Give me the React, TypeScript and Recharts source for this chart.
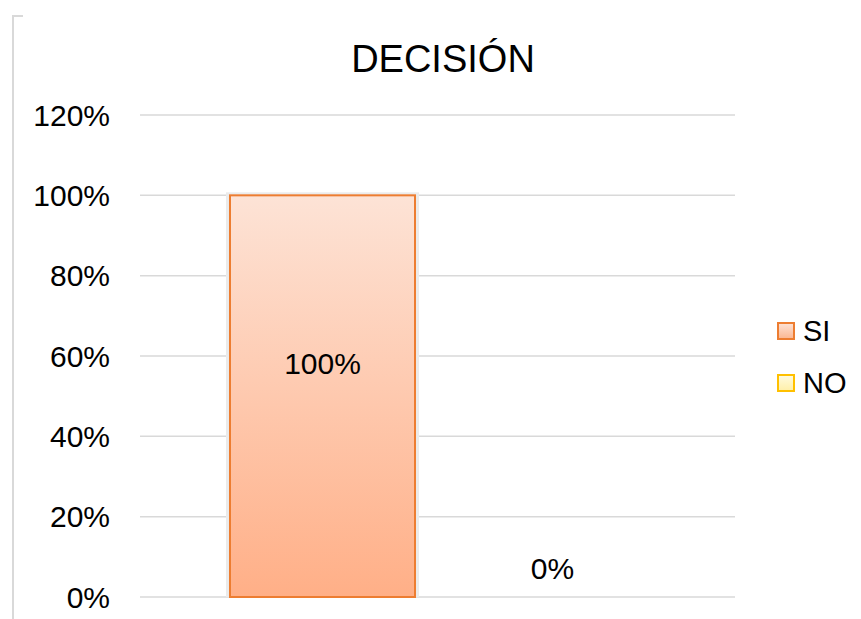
import { BarChart, Bar, YAxis, XAxis, CartesianGrid, LabelList } from 'recharts';

const categories = ['DECISIÓN'];
const siValues = [1.0];
const noValues = [0];
const yTicks = [0, 0.2, 0.4, 0.6, 0.8, 1.0, 1.2];
const seriesNames = ['SI', 'NO'];

const data = categories.map((name, i) => ({ name, SI: siValues[i], NO: noValues[i] }));

const pct = (v: number): string => `${Math.round(v * 100)}%`;

function ShadowBar(props: any): React.ReactNode {
  const { x, y, width, height, fill, stroke } = props;
  if (!height || height <= 0) return null;
  return (
    <g>
      <rect x={x - 4} y={y - 3} width={width + 8} height={height + 3} fill="#EBEBEB" />
      <rect x={x} y={y} width={width} height={height} fill={fill} stroke={stroke} strokeWidth={2} />
    </g>
  );
}

function makeLabel(dy: number) {
  return function BarLabel(props: any): React.ReactNode {
    const { x, y, width, height, value } = props;
    return (
      <text
        x={x + width / 2}
        y={y + height / 2 + dy}
        textAnchor="middle"
        dominantBaseline="central"
        fontSize={30}
        fill="#000"
        fontFamily="'Liberation Sans', Arial, sans-serif"
      >
        {pct(value)}
      </text>
    );
  };
}

function LegendBox(): React.ReactNode {
  const swatches = [
    { name: seriesNames[0], fill: 'url(#siLegend)', stroke: '#ED7D31' },
    { name: seriesNames[1], fill: 'url(#noLegend)', stroke: '#FFC000' },
  ];
  return (
    <div
      style={{
        position: 'absolute',
        left: 777,
        top: 305,
        fontFamily: "'Liberation Sans', Arial, sans-serif",
        fontSize: 29,
        color: '#000',
      }}
    >
      {swatches.map((s) => (
        <div key={s.name} style={{ display: 'flex', alignItems: 'center', height: 52 }}>
          <svg width={18} height={18} style={{ marginRight: 8 }}>
            <defs>
              <linearGradient id="siLegend" x1="0" y1="0" x2="0" y2="1">
                <stop offset="0%" stopColor="#FDE3D6" />
                <stop offset="100%" stopColor="#FBB691" />
              </linearGradient>
              <linearGradient id="noLegend" x1="0" y1="0" x2="0" y2="1">
                <stop offset="0%" stopColor="#FFFBE0" />
                <stop offset="100%" stopColor="#FFEFA8" />
              </linearGradient>
            </defs>
            <rect x={1} y={1} width={16} height={16} fill={s.fill} stroke={s.stroke} strokeWidth={2} />
          </svg>
          <span>{s.name}</span>
        </div>
      ))}
    </div>
  );
}

export default function App(): React.ReactNode {
  return (
    <div style={{ position: 'absolute', left: 0, top: 0, width: 861, height: 619, background: '#fff' }}>
      <BarChart
        width={861}
        height={619}
        data={data}
        margin={{ top: 115, right: 126, bottom: 22, left: 0 }}
        barSize={185}
        barGap={45}
      >
        <defs>
          <linearGradient id="siGrad" x1="0" y1="0" x2="0" y2="1">
            <stop offset="0%" stopColor="#FDE3D6" />
            <stop offset="100%" stopColor="#FFAF87" />
          </linearGradient>
          <linearGradient id="noGrad" x1="0" y1="0" x2="0" y2="1">
            <stop offset="0%" stopColor="#FFFBE0" />
            <stop offset="100%" stopColor="#FFE699" />
          </linearGradient>
        </defs>
        <CartesianGrid vertical={false} stroke="#D9D9D9" strokeWidth={1.5} />
        <XAxis dataKey="name" hide />
        <YAxis
          width={140}
          domain={[0, 1.2]}
          ticks={yTicks}
          tickFormatter={pct}
          axisLine={false}
          tickLine={false}
          tickSize={6}
          tickMargin={24}
          tick={{ fontSize: 30, fill: '#000', fontFamily: "'Liberation Sans', Arial, sans-serif" }}
          interval={0}
        />
        <Bar dataKey="SI" fill="url(#siGrad)" stroke="#ED7D31" shape={ShadowBar} isAnimationActive={false}>
          <LabelList dataKey="SI" content={makeLabel(-33)} />
        </Bar>
        <Bar dataKey="NO" fill="url(#noGrad)" stroke="#FFC000" shape={ShadowBar} isAnimationActive={false}>
          <LabelList dataKey="NO" content={makeLabel(-29)} />
        </Bar>
      </BarChart>
      <LegendBox />
      <svg
        width={861}
        height={619}
        style={{ position: 'absolute', left: 0, top: 0, pointerEvents: 'none' }}
      >
        <polyline points="23,16 13,16 13,619" fill="none" stroke="#D9D9D9" strokeWidth={2} />
        <text
          x={443}
          y={72}
          textAnchor="middle"
          fontSize={38}
          fill="#000"
          fontFamily="'Liberation Sans', Arial, sans-serif"
        >
          DECISIÓN
        </text>
      </svg>
    </div>
  );
}
